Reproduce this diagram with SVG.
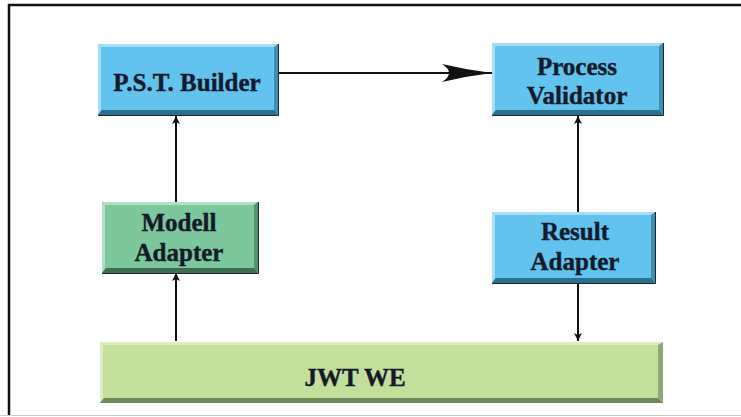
<svg xmlns="http://www.w3.org/2000/svg" width="741" height="417" viewBox="0 0 741 417">
<style>
.t{font-family:"Liberation Serif","Times New Roman",serif;font-weight:bold;font-size:25px;fill:#141a2a;stroke:#141a2a;stroke-width:0.4;text-anchor:middle}
.ln{stroke:#111;stroke-width:2;fill:none}
.bf{fill:#62C3EF}.bl{fill:#A6DDF6}.bd{fill:#2C6F8C}.br{fill:#3F8DB0}
.gf{fill:#7CC79B}.gl{fill:#B3E0C4}.gd{fill:#3E6E52}.gr{fill:#55916C}
.yf{fill:#C4DE9C}.yl{fill:#DDEDC4}.yd{fill:#6F8A58}.yr{fill:#8FA873}
.ol{stroke:#1a2a2a;stroke-width:1;fill:none}
</style>
<defs>
<marker id="ah" viewBox="0 0 10 10" refX="10" refY="5" markerWidth="8" markerHeight="10" markerUnits="userSpaceOnUse" orient="auto">
<path d="M0,0 L10,5 L0,10 L2.5,5 Z" fill="#111"/>
</marker>
<marker id="big" viewBox="0 0 50 18" refX="50" refY="9" markerWidth="52" markerHeight="18" markerUnits="userSpaceOnUse" orient="auto">
<path d="M0,0 Q25,6 50,9 Q25,12 0,18 Q14,9 0,0 Z" fill="#111"/>
</marker>
</defs>
<rect x="0" y="0" width="741" height="417" fill="#fff"/>
<path d="M9,416 L9,5 L741,5" stroke="#111" stroke-width="2.5" fill="none"/>
<line x1="0" y1="415.5" x2="741" y2="415.5" stroke="#ccc" stroke-width="1"/>

<g id="connectors">
<line class="ln" x1="278" y1="73" x2="492" y2="73" marker-end="url(#big)"/>
<line class="ln" x1="176" y1="202" x2="176" y2="116" marker-end="url(#ah)"/>
<line class="ln" x1="176" y1="341" x2="176" y2="273" marker-end="url(#ah)"/>
<line class="ln" x1="578" y1="212" x2="578" y2="116" marker-end="url(#ah)"/>
<line class="ln" x1="578" y1="283" x2="578" y2="341" marker-end="url(#ah)"/>
</g>

<g id="pst-builder">
<rect class="bf" x="98" y="44" width="180" height="71"/>
<polygon class="bl" points="98,44 278,44 275,47 101,47"/>
<polygon class="bl" points="98,44 101,47 101,110 98,115"/>
<polygon class="br" points="278,44 278,115 274,110 274,47"/>
<polygon class="bd" points="98,115 102,110 274,110 278,115"/>
<path class="ol" d="M98,115.5 L278.5,115.5 L278.5,44"/>
<text class="t" x="187" y="91">P.S.T. Builder</text>
</g>

<g id="process-validator">
<rect class="bf" x="492" y="43" width="171" height="72"/>
<polygon class="bl" points="492,43 663,43 660,46 495,46"/>
<polygon class="bl" points="492,43 495,46 495,110 492,115"/>
<polygon class="br" points="663,43 663,115 659,110 659,46"/>
<polygon class="bd" points="492,115 496,110 659,110 663,115"/>
<path class="ol" d="M492,115.5 L663.5,115.5 L663.5,43"/>
<text class="t" x="577" y="75">Process</text>
<text class="t" x="577" y="104">Validator</text>
</g>

<g id="modell-adapter">
<rect class="gf" x="102" y="202" width="156" height="71"/>
<polygon class="gl" points="102,202 258,202 255,205 105,205"/>
<polygon class="gl" points="102,202 105,205 105,268 102,273"/>
<polygon class="gr" points="258,202 258,273 254,268 254,205"/>
<polygon class="gd" points="102,273 106,268 254,268 258,273"/>
<path class="ol" d="M102,273.5 L258.5,273.5 L258.5,202"/>
<text class="t" x="179" y="231">Modell</text>
<text class="t" x="179" y="261">Adapter</text>
</g>

<g id="result-adapter">
<rect class="bf" x="492" y="212" width="163" height="71"/>
<polygon class="bl" points="492,212 655,212 652,215 495,215"/>
<polygon class="bl" points="492,212 495,215 495,278 492,283"/>
<polygon class="br" points="655,212 655,283 651,278 651,215"/>
<polygon class="bd" points="492,283 496,278 651,278 655,283"/>
<path class="ol" d="M492,283.5 L655.5,283.5 L655.5,212"/>
<text class="t" x="575" y="240">Result</text>
<text class="t" x="575" y="270">Adapter</text>
</g>

<g id="jwt-we">
<rect class="yf" x="100" y="342" width="563" height="61"/>
<polygon class="yl" points="100,342 663,342 660,345 103,345"/>
<polygon class="yl" points="100,342 103,345 103,398 100,403"/>
<polygon class="yr" points="663,342 663,403 658,398 658,345"/>
<polygon class="yd" points="100,403 104,398 658,398 663,403"/>
<text class="t" x="355" y="386">JWT WE</text>
</g>
</svg>
